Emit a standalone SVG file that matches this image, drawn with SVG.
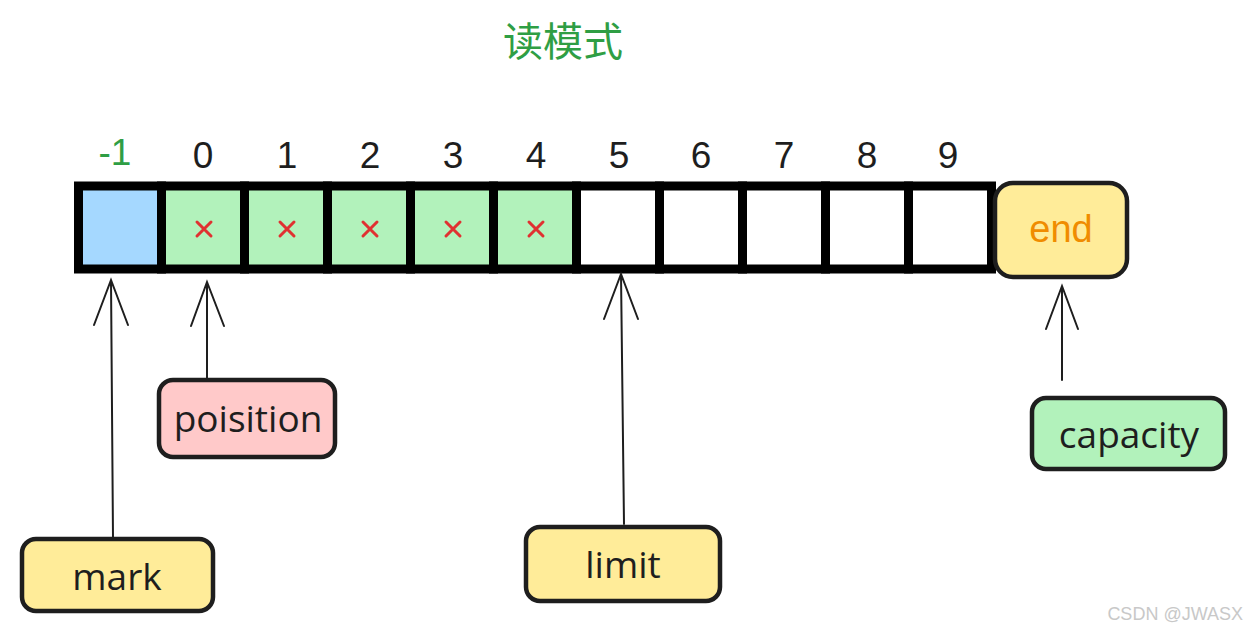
<svg xmlns="http://www.w3.org/2000/svg" width="1246" height="633" viewBox="0 0 1246 633">
<style>
.idx{font-family:"Liberation Sans",sans-serif;font-size:37px;fill:#1e1e1e;text-anchor:middle}
.x{stroke:#e03131;stroke-width:3;stroke-linecap:round}
.cell{stroke:#000;stroke-width:9}
.box{stroke:#1e1e1e;stroke-width:4.5}
.lbl{font-family:"Open Sans",sans-serif;font-size:37px;fill:#1e1e1e;text-anchor:middle;dominant-baseline:central}
.arr{stroke:#1e1e1e;stroke-width:2;fill:none;stroke-linecap:round}
</style>
<rect width="1246" height="633" fill="#fff"/>
<text x="563" y="56" font-family="'Noto Sans CJK SC',sans-serif" font-size="40" fill="#2f9e44" text-anchor="middle">读模式</text>
<g id="indices">
<text class="idx" x="115" y="165" style="fill:#2f9e44">-1</text>
<text class="idx" x="203" y="168">0</text>
<text class="idx" x="287" y="168">1</text>
<text class="idx" x="370" y="168">2</text>
<text class="idx" x="453" y="168">3</text>
<text class="idx" x="536" y="168">4</text>
<text class="idx" x="619" y="168">5</text>
<text class="idx" x="701" y="168">6</text>
<text class="idx" x="784" y="168">7</text>
<text class="idx" x="867" y="168">8</text>
<text class="idx" x="948" y="168">9</text>
</g>
<g id="array">
<rect class="cell" x="78.5" y="186" width="83" height="83" fill="#a5d8ff"/>
<rect class="cell" x="161.5" y="186" width="83" height="83" fill="#b2f2bb"/>
<rect class="cell" x="244.5" y="186" width="83" height="83" fill="#b2f2bb"/>
<rect class="cell" x="327.5" y="186" width="83" height="83" fill="#b2f2bb"/>
<rect class="cell" x="410.5" y="186" width="83" height="83" fill="#b2f2bb"/>
<rect class="cell" x="493.5" y="186" width="83" height="83" fill="#b2f2bb"/>
<rect class="cell" x="576.5" y="186" width="83" height="83" fill="#fff"/>
<rect class="cell" x="659.5" y="186" width="83" height="83" fill="#fff"/>
<rect class="cell" x="742.5" y="186" width="83" height="83" fill="#fff"/>
<rect class="cell" x="825.5" y="186" width="83" height="83" fill="#fff"/>
<rect class="cell" x="908.5" y="186" width="83" height="83" fill="#fff"/>
<g class="x">
<path d="M197 222 L211 236 M211 222 L197 236"/>
<path d="M280 222 L294 236 M294 222 L280 236"/>
<path d="M363 222 L377 236 M377 222 L363 236"/>
<path d="M446 222 L460 236 M460 222 L446 236"/>
<path d="M529 222 L543 236 M543 222 L529 236"/>
</g>
</g>
<g id="end">
<rect class="box" x="995" y="183" width="132" height="94" rx="18" fill="#ffec99"/>
<text x="1061" y="229" font-family="'Liberation Sans',sans-serif" font-size="38" fill="#f08c00" text-anchor="middle" dominant-baseline="central">end</text>
</g>
<g id="mark">
<rect class="box" x="22" y="539" width="191" height="72" rx="14" fill="#ffec99"/>
<text class="lbl" x="117" y="575">mark</text>
</g>
<g id="poisition">
<rect class="box" x="159" y="380" width="176" height="77" rx="14" fill="#ffc9c9"/>
<text class="lbl" x="248" y="417">poisition</text>
</g>
<g id="limit">
<rect class="box" x="526" y="527" width="194" height="74" rx="14" fill="#ffec99"/>
<text class="lbl" x="623" y="563">limit</text>
</g>
<g id="capacity">
<rect class="box" x="1032" y="398" width="193" height="71" rx="14" fill="#b2f2bb"/>
<text class="lbl" x="1129" y="433">capacity</text>
</g>
<g id="connectors">
<path class="arr" d="M113 538 L111 280 M94 325 L111 280 L128 325"/>
<path class="arr" d="M207 378 L207 282 M191 326 L207 282 L224 326"/>
<path class="arr" d="M624 524 L621 274 M604 319 L621 274 L638 319"/>
<path class="arr" d="M1062 380 L1062 286 M1046 329 L1062 286 L1078 329"/>
</g>
<text x="1243" y="620" font-family="'Liberation Sans',sans-serif" font-size="18" fill="#c8c8c8" text-anchor="end">CSDN @JWASX</text>
</svg>
